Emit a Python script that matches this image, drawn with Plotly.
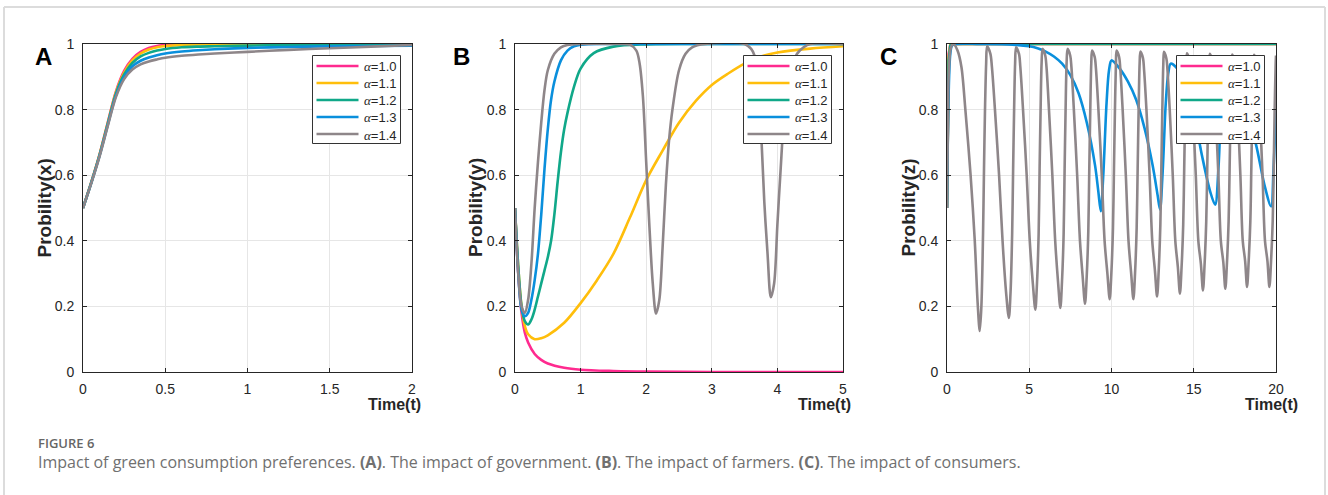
import plotly.graph_objects as go

W, H = 1328, 495

# ---------------- data ----------------
labels = ["1.0", "1.1", "1.2", "1.3", "1.4"]
colors = ["#FF2A8F", "#FFBE0B", "#10A889", "#0A8FDC", "#8E8689"]

# Panel A  (government, x)
tA = [0, 0.05, 0.1, 0.15, 0.2, 0.25, 0.3, 0.35, 0.4, 0.45, 0.5, 0.6, 0.7, 0.8, 1.0, 1.25, 1.5, 1.75, 2.0]
xA_10 = [0.5, 0.578, 0.662, 0.76, 0.855, 0.918, 0.955, 0.976, 0.988, 0.994, 0.997, 0.999, 1.0, 1.0, 1.0, 1.0, 1.0, 1.0, 1.0]
xA_11 = [0.5, 0.578, 0.662, 0.758, 0.852, 0.913, 0.95, 0.971, 0.983, 0.99, 0.994, 0.997, 0.999, 1.0, 1.0, 1.0, 1.0, 1.0, 1.0]
xA_12 = [0.5, 0.577, 0.66, 0.755, 0.848, 0.907, 0.942, 0.962, 0.973, 0.98, 0.985, 0.99, 0.992, 0.993, 0.995, 0.997, 0.998, 0.999, 1.0]
xA_13 = [0.5, 0.576, 0.658, 0.752, 0.843, 0.9, 0.932, 0.949, 0.959, 0.966, 0.971, 0.977, 0.981, 0.984, 0.988, 0.991, 0.993, 0.994, 0.995]
xA_14 = [0.5, 0.575, 0.656, 0.749, 0.838, 0.893, 0.922, 0.938, 0.947, 0.953, 0.958, 0.964, 0.968, 0.971, 0.976, 0.982, 0.987, 0.992, 0.997]

# Panel B  (farmers, y)
tB_10 = [0, 0.05, 0.1, 0.15, 0.2, 0.3, 0.4, 0.5, 0.75, 1.0, 1.5, 2.0, 3.0, 4.0, 5.0]
yB_10 = [0.5, 0.3, 0.18, 0.12, 0.09, 0.055, 0.037, 0.026, 0.013, 0.007, 0.003, 0.001, 0.0, 0.0, 0.0]

tB_11 = [0, 0.05, 0.1, 0.15, 0.2, 0.3, 0.4, 0.5, 0.75, 1.0, 1.25, 1.5, 1.75, 2.0, 2.25, 2.5, 2.75, 3.0,
         3.25, 3.5, 3.75, 4.0, 4.5, 5.0]
yB_11 = [0.5, 0.32, 0.2, 0.14, 0.115, 0.1, 0.103, 0.112, 0.15, 0.21, 0.28, 0.36, 0.47, 0.585, 0.675, 0.76, 0.825, 0.875,
         0.91, 0.94, 0.962, 0.974, 0.986, 0.993]

tB_12 = [0, 0.05, 0.1, 0.15, 0.2, 0.25, 0.3, 0.35, 0.4, 0.45, 0.5, 0.55, 0.6, 0.65, 0.7, 0.75, 0.8, 0.9, 1.0,
         1.2, 1.5, 2.0, 3.0, 4.0, 5.0]
yB_12 = [0.5, 0.32, 0.2, 0.155, 0.145, 0.16, 0.19, 0.23, 0.27, 0.31, 0.35, 0.4, 0.48, 0.58, 0.67, 0.74, 0.79, 0.87, 0.925,
         0.972, 0.992, 0.999, 1.0, 1.0, 1.0]

tB_13 = [0, 0.05, 0.1, 0.15, 0.2, 0.25, 0.3, 0.35, 0.4, 0.45, 0.5, 0.55, 0.6, 0.7, 0.8, 0.9, 1.0, 1.5, 5.0]
yB_13 = [0.5, 0.3, 0.19, 0.17, 0.18, 0.22, 0.28, 0.36, 0.48, 0.62, 0.74, 0.83, 0.885, 0.95, 0.98, 0.993, 0.998, 1.0, 1.0]

tB_14 = [0, 0.05, 0.1, 0.15, 0.2, 0.25, 0.3, 0.35, 0.4, 0.45, 0.5, 0.6, 0.7, 0.8, 1.0, 1.5, 1.75, 1.85, 1.9,
         1.95, 2.0, 2.05, 2.1, 2.15, 2.2, 2.25, 2.3, 2.35, 2.4, 2.5, 2.6, 2.7, 2.9, 3.5, 3.6, 3.65, 3.7,
         3.75, 3.8, 3.85, 3.9, 3.95, 4.0, 4.05, 4.1, 4.2, 4.3, 4.4, 4.5, 5.0]
yB_14 = [0.5, 0.3, 0.2, 0.18, 0.22, 0.33, 0.5, 0.64, 0.76, 0.86, 0.92, 0.97, 0.99, 0.997, 1.0, 1.0, 0.998, 0.98, 0.94,
         0.84, 0.64, 0.44, 0.27, 0.178, 0.22, 0.38, 0.57, 0.71, 0.8, 0.92, 0.97, 0.99, 1.0, 1.0, 0.985, 0.965, 0.9,
         0.74, 0.52, 0.36, 0.228, 0.27, 0.45, 0.62, 0.77, 0.92, 0.97, 0.99, 1.0, 1.0]

# Panel C  (consumers, z)
tC_10 = [0, 0.05, 0.1, 0.2, 0.4, 20]
zC_10 = [0.5, 0.85, 0.97, 0.998, 1.0, 1.0]
tC_11 = [0, 0.05, 0.1, 0.2, 0.4, 20]
zC_11 = [0.5, 0.83, 0.96, 0.997, 1.0, 1.0]
tC_12 = [0, 0.05, 0.1, 0.2, 0.4, 20]
zC_12 = [0.5, 0.8, 0.95, 0.995, 1.0, 1.0]

tC_13 = [0, 0.1, 0.2, 0.3, 0.5, 2, 4, 5, 5.5, 6, 6.5, 7, 7.5, 8, 8.5, 9, 9.2, 9.35, 9.5, 9.7, 9.85, 10,
         10.5, 11, 11.5, 12, 12.5, 12.8, 12.95, 13.1, 13.3, 13.45, 13.6, 14, 14.5, 15, 15.5, 16, 16.3,
         16.5, 16.7, 16.9, 17.3, 17.8, 18.3, 18.8, 19.3, 19.7, 19.85, 20]
zC_13 = [0.5, 0.85, 0.97, 0.995, 1.0, 1.0, 0.998, 0.993, 0.987, 0.977, 0.962, 0.94, 0.905, 0.85, 0.76, 0.63, 0.55,
         0.49, 0.6, 0.82, 0.92, 0.95, 0.925, 0.885, 0.83, 0.745, 0.63, 0.54, 0.495, 0.6, 0.82, 0.91, 0.94, 0.925,
         0.88, 0.79, 0.66, 0.55, 0.51, 0.62, 0.84, 0.93, 0.92, 0.86, 0.78, 0.69, 0.57, 0.505, 0.62, 0.8]

tC_14 = [0, 0.05, 0.1, 0.2, 0.3, 0.4,
         0.64, 0.877, 1.116, 1.434, 1.688, 1.863, 1.99, 2.09, 2.19, 2.25, 2.31, 2.38, 2.44,
         2.638, 2.73, 2.915, 3.166, 3.377, 3.588, 3.76, 3.86, 3.96, 4.02, 4.08, 4.14, 4.2,
         4.376, 4.457, 4.621, 4.844, 5.031, 5.218, 5.37, 5.47, 5.57, 5.63, 5.69, 5.75, 5.81,
         5.972, 6.048, 6.199, 6.404, 6.577, 6.75, 6.89, 6.99, 7.09, 7.15, 7.21, 7.27, 7.33,
         7.489, 7.563, 7.712, 7.913, 8.083, 8.252, 8.39, 8.49, 8.59, 8.65, 8.71, 8.77, 8.82,
         8.98, 9.055, 9.205, 9.409, 9.58, 9.751, 9.89, 9.99, 10.09, 10.15, 10.21, 10.27, 10.31,
         10.463, 10.534, 10.677, 10.871, 11.034, 11.197, 11.33, 11.43, 11.53, 11.59, 11.65, 11.71, 11.76,
         11.912, 11.982, 12.124, 12.316, 12.477, 12.639, 12.77, 12.87, 12.97, 13.03, 13.09, 13.15, 13.19,
         13.336, 13.403, 13.539, 13.724, 13.879, 14.034, 14.16, 14.26, 14.36, 14.42, 14.48, 14.54, 14.59,
         14.736, 14.803, 14.939, 15.124, 15.279, 15.434, 15.56, 15.66, 15.76, 15.82, 15.88, 15.94, 15.98,
         16.121, 16.187, 16.318, 16.497, 16.647, 16.798, 16.92, 17.02, 17.12, 17.18, 17.24, 17.3, 17.34,
         17.475, 17.538, 17.664, 17.835, 17.979, 18.123, 18.24, 18.34, 18.44, 18.5, 18.56, 18.62, 18.67,
         18.81, 18.875, 19.005, 19.182, 19.33, 19.479, 19.6, 19.7, 19.8, 19.86, 19.92, 19.98, 20.0]
zC_14 = [0.5, 0.75, 0.9, 0.98, 0.997, 1.0,
         0.98, 0.93, 0.8, 0.6, 0.4, 0.21, 0.125, 0.2, 0.42, 0.62, 0.8, 0.94, 0.993,
         0.97, 0.93, 0.8, 0.6, 0.4, 0.245, 0.165, 0.24, 0.42, 0.62, 0.8, 0.94, 0.99,
         0.97, 0.93, 0.8, 0.6, 0.4, 0.27, 0.19, 0.27, 0.42, 0.62, 0.8, 0.94, 0.985,
         0.965, 0.93, 0.8, 0.6, 0.4, 0.275, 0.195, 0.275, 0.42, 0.62, 0.8, 0.94, 0.985,
         0.965, 0.93, 0.8, 0.6, 0.4, 0.288, 0.208, 0.288, 0.43, 0.62, 0.8, 0.94, 0.98,
         0.96, 0.925, 0.8, 0.6, 0.4, 0.3, 0.222, 0.3, 0.44, 0.62, 0.8, 0.94, 0.98,
         0.96, 0.925, 0.8, 0.6, 0.4, 0.3, 0.222, 0.3, 0.44, 0.62, 0.8, 0.94, 0.977,
         0.957, 0.92, 0.8, 0.6, 0.4, 0.31, 0.23, 0.31, 0.45, 0.62, 0.8, 0.94, 0.976,
         0.956, 0.92, 0.8, 0.6, 0.4, 0.32, 0.239, 0.32, 0.45, 0.62, 0.8, 0.94, 0.972,
         0.952, 0.92, 0.8, 0.6, 0.4, 0.33, 0.249, 0.33, 0.46, 0.62, 0.8, 0.94, 0.97,
         0.95, 0.915, 0.8, 0.6, 0.4, 0.334, 0.254, 0.334, 0.46, 0.62, 0.8, 0.94, 0.968,
         0.948, 0.915, 0.8, 0.6, 0.4, 0.339, 0.259, 0.339, 0.46, 0.62, 0.8, 0.94, 0.967,
         0.947, 0.915, 0.8, 0.6, 0.4, 0.339, 0.259, 0.339, 0.46, 0.62, 0.8, 0.94, 0.965]

panels = [
    dict(t=[tA] * 5, v=[xA_10, xA_11, xA_12, xA_13, xA_14], xmax=2, dtick=0.5,
         ylabel="Probility(x)", letter="A", shapes=["spline"] * 5),
    dict(t=[tB_10, tB_11, tB_12, tB_13, tB_14], v=[yB_10, yB_11, yB_12, yB_13, yB_14], xmax=5, dtick=1,
         ylabel="Probility(y)", letter="B", shapes=["spline"] * 5),
    dict(t=[tC_10, tC_11, tC_12, tC_13, tC_14], v=[zC_10, zC_11, zC_12, zC_13, zC_14], xmax=20, dtick=5,
         ylabel="Probility(z)", letter="C", shapes=["linear", "linear", "linear", "spline", "spline"]),
]

# ---------------- layout geometry (pixels) ----------------
plot_left = [83, 515, 947]
plot_right = [412, 843, 1276]
plot_top, plot_bottom = 44, 372
letter_x = [43.5, 461, 888]
ylabel_x = [43.5, 475, 907.5]
xlabel_x = [394, 824, 1271.5]

AX_COL = "#262626"
SANS = "Liberation Sans, Arial, sans-serif"
TICK_FONT = dict(family=SANS, size=14, color=AX_COL)


def fx(px):
    return px / W


def fy(py):
    return 1 - py / H


fig = go.Figure()
layout = dict(
    width=W, height=H, margin=dict(l=0, r=0, t=0, b=0, pad=0, autoexpand=False),
    paper_bgcolor="white", plot_bgcolor="white",
    showlegend=False, annotations=[], shapes=[],
)

for i, p in enumerate(panels):
    sfx = "" if i == 0 else str(i + 1)
    for k in range(5):
        fig.add_trace(go.Scatter(
            x=p["t"][k], y=p["v"][k], mode="lines", name="α=" + labels[k],
            line=dict(color=colors[k], width=2.6, shape=p["shapes"][k], smoothing=0.9),
            xaxis="x" + sfx, yaxis="y" + sfx, hoverinfo="skip",
        ))
    common = dict(showline=True, linecolor=AX_COL, linewidth=1, mirror="allticks",
                  ticks="inside", ticklen=4, tickcolor=AX_COL, tickwidth=1,
                  showgrid=True, gridcolor="#e6e6e6", gridwidth=1, zeroline=False,
                  tickfont=TICK_FONT, fixedrange=True, automargin=False)
    layout["xaxis" + sfx] = dict(common, domain=[fx(plot_left[i]), fx(plot_right[i])],
                                 range=[0, p["xmax"]], dtick=p["dtick"], tick0=0,
                                 anchor="y" + sfx, ticklabelstandoff=4)
    layout["yaxis" + sfx] = dict(common, domain=[fy(plot_bottom), fy(plot_top)],
                                 range=[0, 1], dtick=0.2, tick0=0, anchor="x" + sfx,
                                 ticklabelstandoff=5)

    # ---- legend box (drawn in pixels relative to the panel) ----
    bx1 = plot_right[i] - 11.5
    bx0 = bx1 - 88
    by0 = plot_top + 11.5
    by1 = by0 + 88
    layout["shapes"].append(dict(
        type="rect", xref="paper", yref="paper", layer="above",
        x0=fx(bx0), x1=fx(bx1), y0=fy(by1), y1=fy(by0),
        fillcolor="white", line=dict(color="#333333", width=1)))
    for k in range(5):
        ry = by0 + 10.5 + 17 * k
        layout["shapes"].append(dict(
            type="line", xref="paper", yref="paper", layer="above",
            x0=fx(bx0 + 4), x1=fx(bx0 + 46), y0=fy(ry), y1=fy(ry),
            line=dict(color=colors[k], width=2.6)))
        layout["annotations"].append(dict(
            x=fx(bx0 + 49), y=fy(ry + 1), xref="paper", yref="paper",
            text='<span style="font-family:Liberation Serif,Times New Roman,serif"><i>α</i></span>=' + labels[k],
            showarrow=False, xanchor="left", yanchor="middle",
            font=dict(family=SANS, size=13, color=AX_COL)))

    # panel letter
    layout["annotations"].append(dict(
        x=fx(letter_x[i]), y=fy(56.5), xref="paper", yref="paper", text="<b>%s</b>" % p["letter"],
        showarrow=False, xanchor="center", yanchor="middle",
        font=dict(family=SANS, size=24, color="black")))
    # y label
    layout["annotations"].append(dict(
        x=fx(ylabel_x[i]), y=fy((plot_top + plot_bottom) / 2), xref="paper", yref="paper",
        text="<b>%s</b>" % p["ylabel"], textangle=-90, showarrow=False,
        xanchor="center", yanchor="middle",
        font=dict(family=SANS, size=19, color=AX_COL)))
    # x label
    layout["annotations"].append(dict(
        x=fx(xlabel_x[i]), y=fy(404), xref="paper", yref="paper", text="<b>Time(t)</b>",
        showarrow=False, xanchor="center", yanchor="middle",
        font=dict(family=SANS, size=16, color=AX_COL)))

# caption
layout["annotations"].append(dict(
    x=fx(36), y=fy(443), xref="paper", yref="paper", text="FIGURE 6", showarrow=False,
    xanchor="left", yanchor="middle",
    font=dict(family="Open Sans, sans-serif", size=13, color="#666666", weight=600)))
layout["annotations"].append(dict(
    x=fx(36), y=fy(462), xref="paper", yref="paper",
    text="Impact of green consumption preferences. <b>(A)</b>. The impact of government. "
         "<b>(B)</b>. The impact of farmers. <b>(C)</b>. The impact of consumers.",
    showarrow=False, xanchor="left", yanchor="middle",
    font=dict(family="Open Sans, sans-serif", size=16, color="#707070")))

# card border
border = dict(color="#dcdcdc", width=2)
layout["shapes"] += [
    dict(type="line", xref="paper", yref="paper", x0=fx(4), x1=fx(1325), y0=fy(7), y1=fy(7), line=border),
    dict(type="line", xref="paper", yref="paper", x0=fx(4), x1=fx(4), y0=fy(7), y1=0, line=border),
    dict(type="line", xref="paper", yref="paper", x0=fx(1325), x1=fx(1325), y0=fy(7), y1=0, line=border),
]

fig.update_layout(**layout)
fig.write_html("out.html")
